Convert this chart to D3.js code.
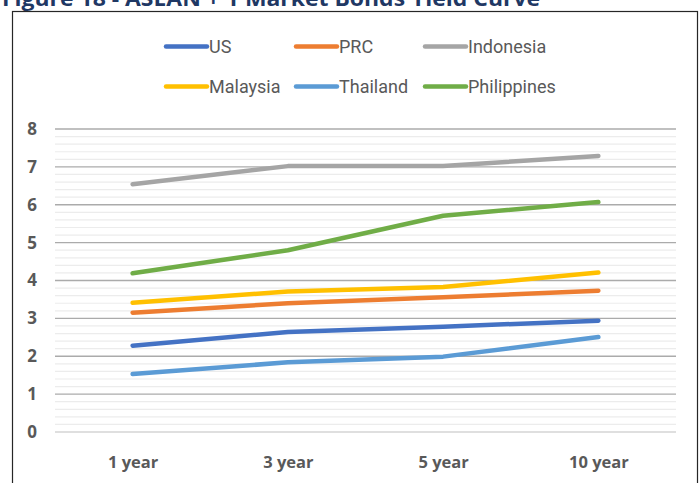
<!DOCTYPE html>
<html>
<head>
<meta charset="utf-8">
<script src="https://cdn.jsdelivr.net/npm/d3@7"></script>
<style>
    body { margin: 0; background: #fff; }
    svg { display: block; }
</style>
</head>
<body>
<div id="chart"></div>
<script>
const tenors = ["1 year", "3 year", "5 year", "10 year"];
const seriesNames = ["US", "PRC", "Indonesia", "Malaysia", "Thailand", "Philippines"];
const seriesColors = ["#4472C4", "#ED7D31", "#A5A5A5", "#FFC000", "#5B9BD5", "#70AD47"];
const usYield = [2.28, 2.64, 2.78, 2.94];
const prcYield = [3.15, 3.40, 3.56, 3.73];
const indonesiaYield = [6.54, 7.02, 7.02, 7.29];
const malaysiaYield = [3.41, 3.71, 3.83, 4.21];
const thailandYield = [1.53, 1.84, 1.99, 2.51];
const philippinesYield = [4.19, 4.80, 5.71, 6.07];
const yTicks = [0, 1, 2, 3, 4, 5, 6, 7, 8];

const ctx = {
    w: 699, h: 483,
    plot: {left: 55, right: 676, top: 129, bottom: 432}
};

const allSeries = [usYield, prcYield, indonesiaYield, malaysiaYield, thailandYield, philippinesYield]
    .map((vals, i) => ({name: seriesNames[i], color: seriesColors[i], values: vals}));

let svg = d3.select("#chart").append("svg")
    .attr("width", ctx.w)
    .attr("height", ctx.h);

// title (cut off at top, as in the source figure)
svg.append("text")
    .attr("x", 2)
    .attr("y", 6)
    .attr("textLength", 538)
    .attr("lengthAdjust", "spacingAndGlyphs")
    .style("font-family", "Open Sans")
    .style("font-weight", "bold")
    .style("font-size", "21px")
    .style("fill", "#1F3864")
    .text("Figure 18 - ASEAN + 1 Market Bonds Yield Curve");

// chart frame
svg.append("rect")
    .attr("x", 12.5)
    .attr("y", 11.5)
    .attr("width", 685)
    .attr("height", 490)
    .attr("fill", "none")
    .attr("stroke", "#262626")
    .attr("stroke-width", 1.2);

let x = d3.scalePoint()
    .domain(tenors)
    .range([ctx.plot.left, ctx.plot.right])
    .padding(0.5);

let y = d3.scaleLinear()
    .domain([0, 8])
    .range([ctx.plot.bottom, ctx.plot.top]);

// minor gridlines
svg.append("g")
    .selectAll("line")
    .data(y.ticks(40).filter(d => Math.abs(d - Math.round(d)) > 0.01))
    .enter()
    .append("line")
    .attr("x1", ctx.plot.left)
    .attr("x2", ctx.plot.right)
    .attr("y1", d => y(d))
    .attr("y2", d => y(d))
    .attr("stroke", "#ececec")
    .attr("stroke-width", 1.2);

// major gridlines
svg.append("g")
    .selectAll("line")
    .data(yTicks)
    .enter()
    .append("line")
    .attr("x1", ctx.plot.left)
    .attr("x2", ctx.plot.right)
    .attr("y1", d => y(d))
    .attr("y2", d => y(d))
    .attr("stroke", d => d === 0 ? "#d4d4d4" : "#ababab")
    .attr("stroke-width", 1.4);

// y axis labels
let yAxis = svg.append("g")
    .attr("transform", "translate(" + ctx.plot.left + ",0)")
    .call(d3.axisLeft(y).tickValues(yTicks).tickSize(0).tickPadding(18).tickFormat(d3.format("d")));
yAxis.select(".domain").remove();
yAxis.selectAll("text")
    .style("font-family", "Open Sans")
    .style("font-weight", "bold")
    .style("font-size", "17px")
    .style("fill", "#595959");

// x axis labels
let xAxis = svg.append("g")
    .attr("transform", "translate(0," + ctx.plot.bottom + ")")
    .call(d3.axisBottom(x).tickSize(0).tickPadding(24));
xAxis.select(".domain").remove();
xAxis.selectAll("text")
    .style("font-family", "Open Sans")
    .style("font-weight", "bold")
    .style("font-size", "16.5px")
    .style("fill", "#595959");

// lines
let line = d3.line()
    .x((d, i) => x(tenors[i]))
    .y(d => y(d));

svg.append("g")
    .selectAll("path")
    .data(allSeries)
    .enter()
    .append("path")
    .attr("fill", "none")
    .attr("stroke", d => d.color)
    .attr("stroke-width", 4.5)
    .attr("stroke-linecap", "round")
    .attr("stroke-linejoin", "round")
    .attr("d", d => line(d.values));

// legend
const legendCols = [166, 296, 425];
const legendRows = [46.5, 86.5];
let legendG = svg.append("g")
    .selectAll("g")
    .data(allSeries)
    .enter()
    .append("g")
    .attr("transform", (d, i) => "translate(" + legendCols[i % 3] + "," + legendRows[Math.floor(i / 3)] + ")");
legendG.append("line")
    .attr("x1", 0)
    .attr("x2", 41)
    .attr("stroke", d => d.color)
    .attr("stroke-width", 4.5)
    .attr("stroke-linecap", "round");
legendG.append("text")
    .attr("x", 43)
    .attr("y", 6)
    .style("font-family", "Liberation Sans Narrow, Roboto")
    .style("font-size", "18px")
    .style("fill", "#595959")
    .text(d => d.name);
</script>
</body>
</html>
